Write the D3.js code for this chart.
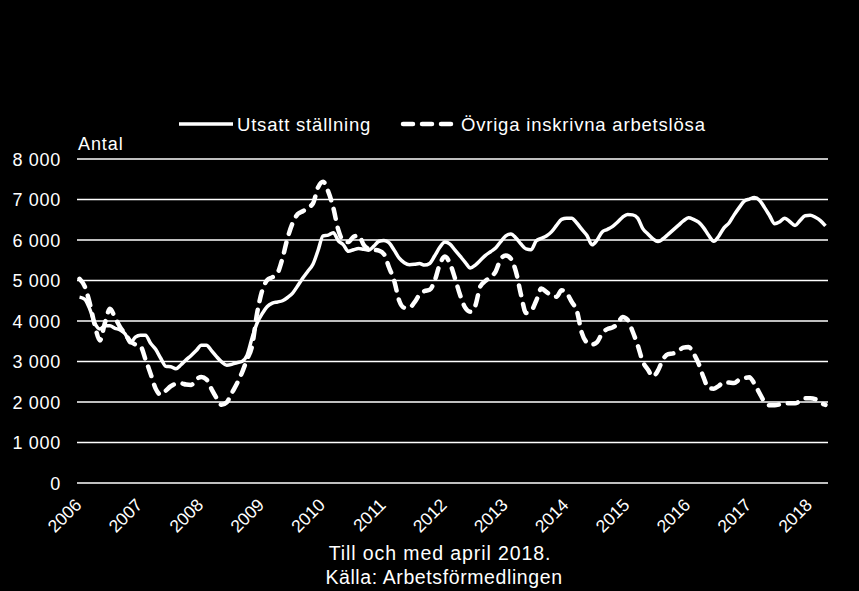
<!DOCTYPE html>
<html>
<head>
<meta charset="utf-8">
<script src="https://cdn.jsdelivr.net/npm/d3@7"></script>
<style>
html,body{margin:0;padding:0;background:#000;}
svg{display:block;}
text{font-family:"Liberation Sans",Arial,sans-serif;fill:#fff;}
</style>
</head>
<body>
<svg id="chart" width="859" height="591"></svg>
<script>
// Monthly data Jan 2006 – Apr 2018
const yearLabels = ["2006","2007","2008","2009","2010","2011","2012","2013","2014","2015","2016","2017","2018"];
const yTicks = [0,1000,2000,3000,4000,5000,6000,7000,8000];
const seriesNames = ["Utsatt ställning","Övriga inskrivna arbetslösa"];

const utsatt = [
4590,4540,4300,3950,3800,3880,3880,3820,3780,3680,3460,3600,
3650,3650,3450,3300,3080,2880,2870,2820,2920,3040,3150,3270,
3400,3400,3270,3120,2990,2910,2930,2970,3000,3150,3580,3950,
4180,4360,4440,4470,4500,4580,4690,4870,5060,5230,5400,5740,
6100,6120,6180,5980,5880,5720,5760,5790,5770,5750,5850,5970,
5990,5930,5750,5550,5440,5390,5400,5420,5380,5420,5610,5820,
5950,5900,5750,5600,5450,5310,5380,5500,5620,5710,5800,5960,
6100,6150,6050,5900,5780,5760,5980,6040,6100,6200,6360,6510,
6540,6540,6420,6260,6110,5880,6000,6200,6260,6330,6440,6560,
6630,6620,6540,6280,6150,6030,5960,6030,6140,6250,6360,6470,
6550,6510,6440,6300,6110,5970,6100,6300,6420,6620,6800,6960,
7010,7050,6980,6800,6600,6400,6450,6540,6450,6360,6480,6600,
6610,6560,6480,6350
];

const ovriga = [
5040,4860,4450,3900,3520,3950,4300,4080,3850,3680,3500,3420,
3380,3050,2700,2330,2180,2280,2390,2450,2460,2430,2420,2560,
2620,2560,2320,2100,1930,1990,2220,2450,2720,3050,3380,4200,
4750,5010,5080,5180,5550,6050,6420,6640,6710,6800,6900,7300,
7440,7200,6800,6250,5980,5950,6080,6110,5880,5780,5760,5740,
5650,5320,5000,4500,4330,4330,4460,4650,4740,4770,5000,5400,
5590,5420,5050,4640,4330,4230,4380,4860,4990,5090,5220,5530,
5620,5540,5220,4650,4200,4250,4500,4800,4720,4620,4600,4760,
4690,4470,4250,3700,3470,3420,3480,3700,3800,3840,3920,4100,
4030,3740,3400,3000,2800,2630,2780,3060,3180,3200,3270,3340,
3360,3200,2950,2600,2340,2330,2400,2490,2480,2470,2550,2590,
2610,2450,2220,2000,1920,1920,1940,1970,1970,1970,2020,2090,
2090,2070,1980,1930
];

const svg = d3.select("#chart");
const plotL = 77, plotR = 828, plotT = 159, plotB = 483;
const n = utsatt.length;

const x = d3.scaleLinear().domain([-0.5, n - 0.5]).range([plotL, plotR]);
const y = d3.scaleLinear().domain([0, 8000]).range([plotB, plotT]);

// gridlines
svg.append("g").selectAll("line").data(yTicks).join("line")
  .attr("x1", plotL).attr("x2", plotR)
  .attr("y1", d => y(d)).attr("y2", d => y(d))
  .attr("stroke", "#fff").attr("stroke-width", 1.5);

// y axis labels
const fmt = v => d3.format(",")(v).replace(/,/g, " ");
svg.append("g").selectAll("text").data(yTicks).join("text")
  .attr("x", 61).attr("y", d => y(d) + 6.5)
  .attr("text-anchor", "end").attr("font-size", 18).attr("letter-spacing", 0.7)
  .text(d => fmt(d));

svg.append("text").attr("x", 78).attr("y", 150).attr("font-size", 18)
  .attr("letter-spacing", 0.9).text("Antal");

// x labels
svg.append("g").selectAll("text").data(yearLabels).join("text")
  .attr("text-anchor", "end").attr("font-size", 17.5)
  .attr("transform", (d, i) => `translate(${x(i * 12) + 3},${506}) rotate(-45)`)
  .text(d => d);

// lines
const line = d3.line().x((d, i) => x(i)).y(d => y(d)).curve(d3.curveMonotoneX);
svg.append("path").datum(ovriga).attr("d", line)
  .attr("fill", "none").attr("stroke", "#fff").attr("stroke-width", 4.5)
  .attr("stroke-dasharray", "10,9").attr("stroke-linecap", "round");
svg.append("path").datum(utsatt).attr("d", line)
  .attr("fill", "none").attr("stroke", "#fff").attr("stroke-width", 3.5)
  .attr("stroke-linejoin", "round");

// legend
const lg = svg.append("g");
lg.append("line").attr("x1", 179).attr("x2", 233).attr("y1", 124).attr("y2", 124)
  .attr("stroke", "#fff").attr("stroke-width", 3.5);
lg.append("text").attr("x", 237).attr("y", 131).attr("font-size", 18.5)
  .attr("letter-spacing", 0.8).text(seriesNames[0]);
lg.append("line").attr("x1", 403).attr("x2", 455).attr("y1", 124).attr("y2", 124)
  .attr("stroke", "#fff").attr("stroke-width", 4.5)
  .attr("stroke-dasharray", "10,9").attr("stroke-linecap", "round");
lg.append("text").attr("x", 461).attr("y", 131).attr("font-size", 18.5)
  .attr("letter-spacing", 0.8).text(seriesNames[1]);

// footer
svg.append("text").attr("x", 440).attr("y", 560).attr("text-anchor", "middle")
  .attr("font-size", 19.5).attr("letter-spacing", 0.9).text("Till och med april 2018.");
svg.append("text").attr("x", 444).attr("y", 584).attr("text-anchor", "middle")
  .attr("font-size", 19.5).attr("letter-spacing", 0.6).text("Källa: Arbetsförmedlingen");
</script>
</body>
</html>
